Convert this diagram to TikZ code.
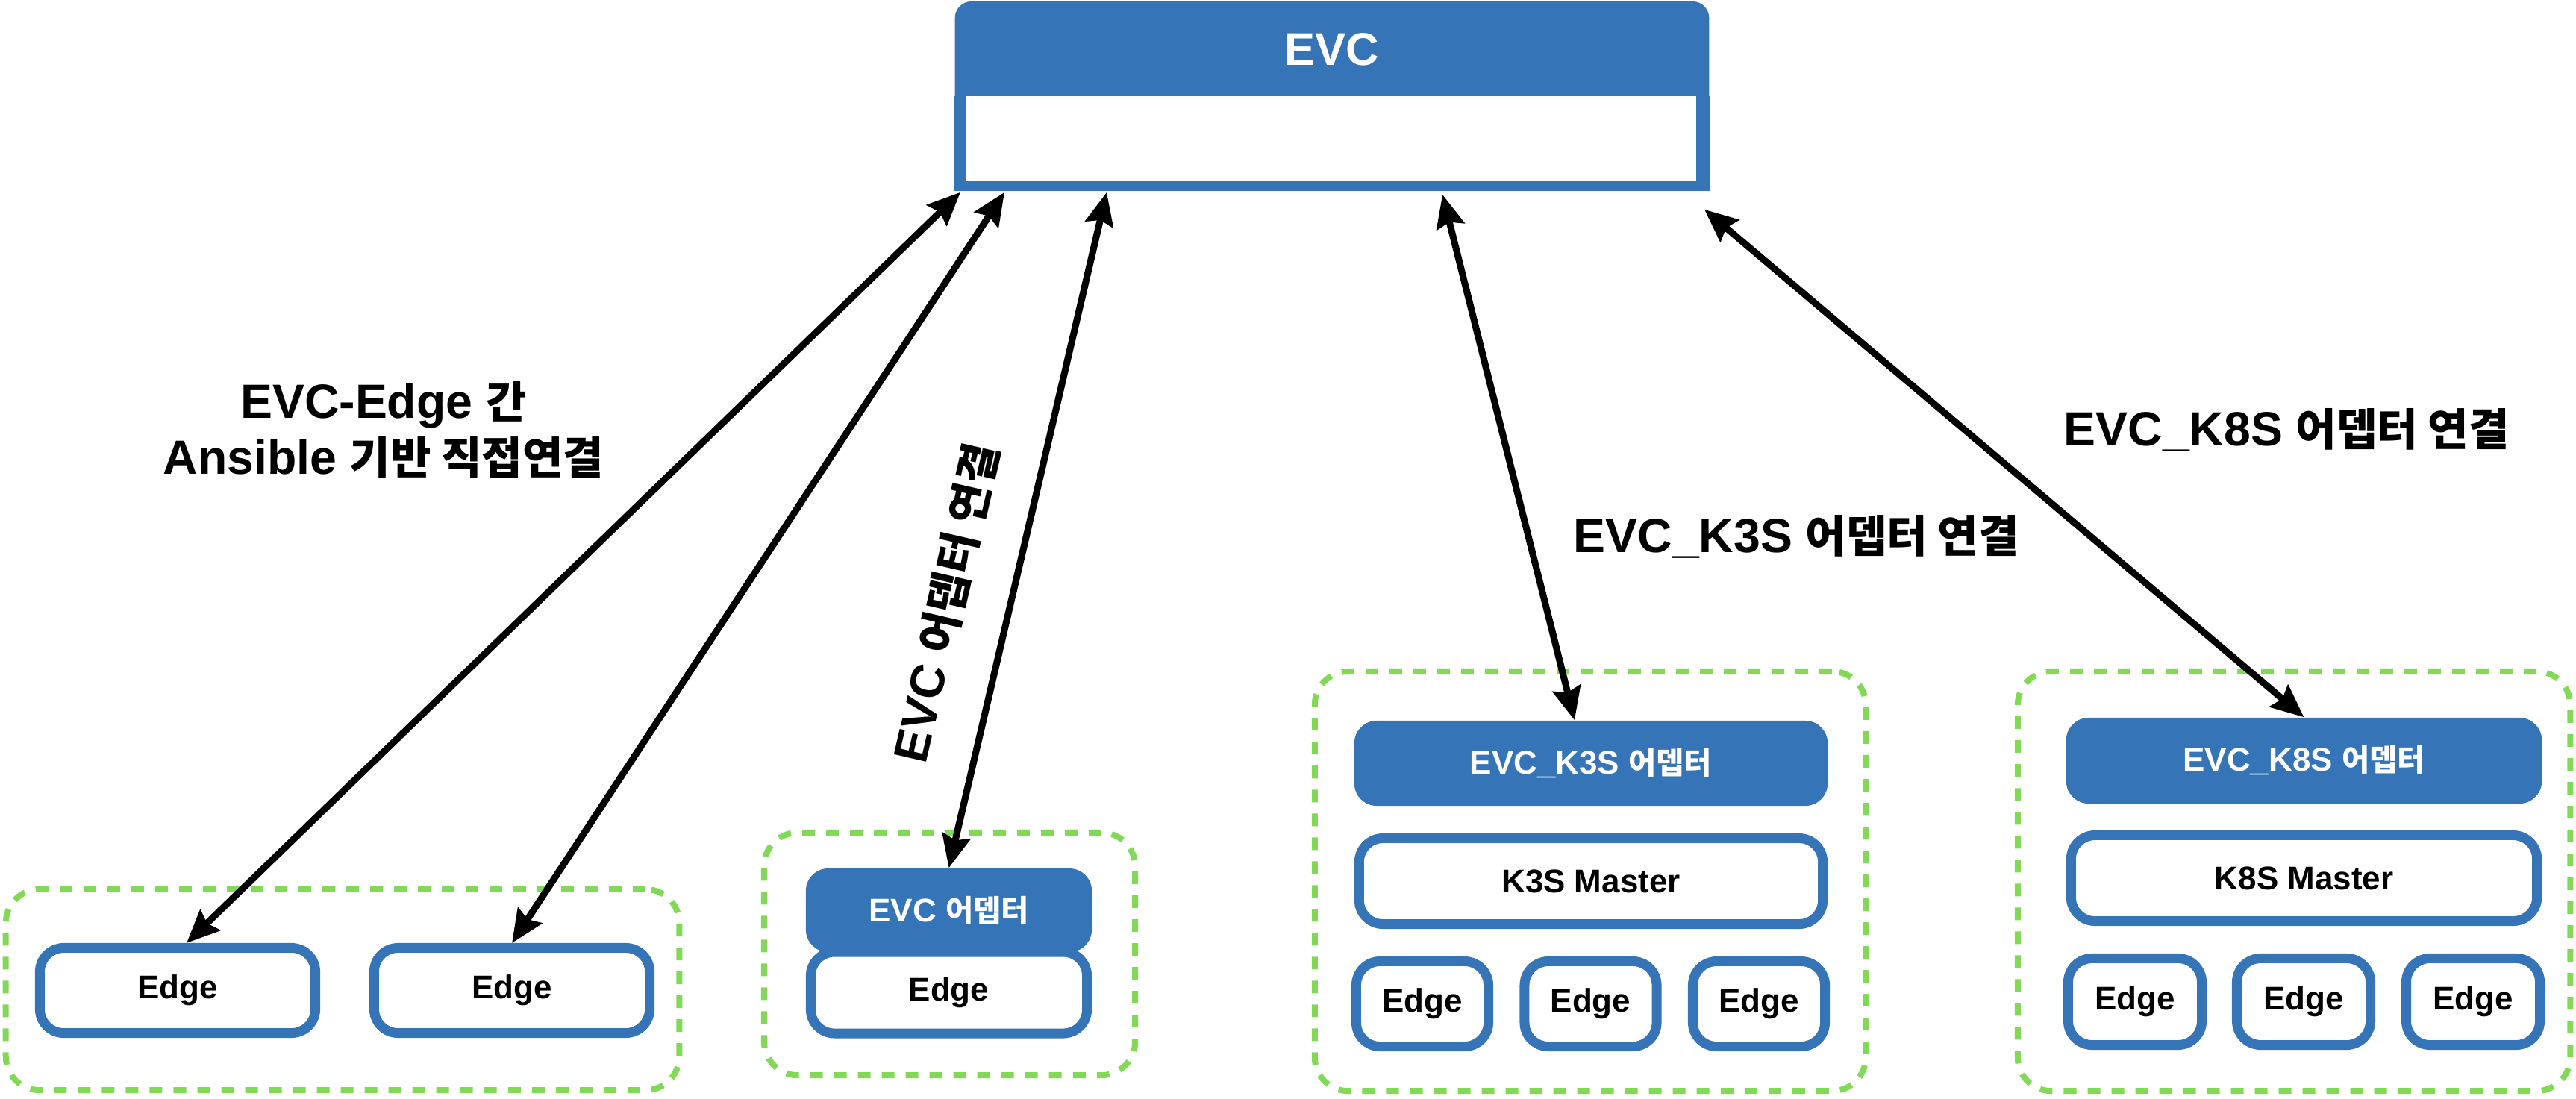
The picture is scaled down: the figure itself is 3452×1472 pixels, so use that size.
\documentclass[tikz,border=0pt]{standalone}
\usepackage{fontspec}
\setmainfont{Liberation Sans}
\newfontfamily\krfont[Scale=0.92]{Noto Sans CJK KR}
\newcommand{\kr}[1]{{\krfont #1}}
\usetikzlibrary{arrows.meta,calc}
\definecolor{evcblue}{RGB}{53,116,182}
\definecolor{grpgreen}{RGB}{130,217,86}

\begin{document}
\begin{tikzpicture}[x=0.01cm, y=-0.01cm,
  group/.style={draw=grpgreen, line width=0.08cm, dash pattern=on 0.17cm off 0.15cm, rounded corners=0.45cm},
  edgebox/.style={draw=evcblue, line width=0.13cm, fill=white, rounded corners=0.32cm, inner sep=0pt, font=\bfseries\fontsize{12.5}{15}\selectfont},
  adapter/.style={fill=evcblue, rounded corners=0.3cm, inner sep=0pt, text=white, font=\bfseries\fontsize{12.5}{15}\selectfont},
  note/.style={font=\bfseries\fontsize{18.3}{21.5}\selectfont, align=center, inner sep=0pt},
  link/.style={{Stealth[length=0.44cm,width=0.38cm,inset=0.06cm]}-{Stealth[length=0.44cm,width=0.38cm,inset=0.06cm]}, line width=0.09cm}]

  \useasboundingbox (0,0) rectangle (3452,1472);

  % EVC
  \node[fill=evcblue, rounded corners=0.22cm, minimum width=10.1cm, minimum height=2.53cm] (evc) at (1785,128.5) {};
  \fill[evcblue] (evc.west) rectangle (evc.south east);
  \node[fill=white, minimum width=9.78cm, minimum height=1.13cm, inner sep=0pt] (evcbody) at (1784,185.5) {};
  \node[text=white, font=\bfseries\fontsize{17.5}{20}\selectfont] (evctitle) at (1785,66) {EVC};

  % 그룹 (점선)
  \node[group, minimum width=9.02cm, minimum height=2.69cm] (grpA) at (459,1326.5) {};
  \node[group, minimum width=4.97cm, minimum height=3.25cm] (grpB) at (1272.5,1278.5) {};
  \node[group, minimum width=7.38cm, minimum height=5.62cm] (grpC) at (2131,1181) {};
  \node[group, minimum width=7.40cm, minimum height=5.62cm] (grpD) at (3074,1181) {};

  % Ansible 직접연결
  \node[edgebox, minimum width=3.69cm, minimum height=1.14cm] (edgeA) at (238,1327.5) {Edge};
  \node[edgebox, minimum width=3.69cm, minimum height=1.14cm] (edgeB) at (686,1327.5) {Edge};

  % EVC 어뎁터
  \node[edgebox, minimum width=3.70cm, minimum height=1.09cm] (edgeC) at (1271.5,1330.5) {Edge};
  \node[adapter, minimum width=3.83cm, minimum height=1.12cm] (adaptC) at (1271.5,1220) {EVC \kr{어뎁터}};

  % K3S
  \node[adapter, minimum width=6.34cm, minimum height=1.14cm] (adaptK3) at (2132,1023) {EVC\_K3S \kr{어뎁터}};
  \node[edgebox, minimum width=6.21cm, minimum height=1.15cm] (masterK3) at (2132,1181) {K3S Master};
  \node[edgebox, minimum width=1.77cm, minimum height=1.14cm] (edgeK3a) at (1906,1345.5) {Edge};
  \node[edgebox, minimum width=1.77cm, minimum height=1.14cm] (edgeK3b) at (2131.5,1345.5) {Edge};
  \node[edgebox, minimum width=1.77cm, minimum height=1.14cm] (edgeK3c) at (2357,1345.5) {Edge};

  % K8S
  \node[adapter, minimum width=6.37cm, minimum height=1.15cm] (adaptK8) at (3087.5,1019.5) {EVC\_K8S \kr{어뎁터}};
  \node[edgebox, minimum width=6.24cm, minimum height=1.15cm] (masterK8) at (3087.5,1177) {K8S Master};
  \node[edgebox, minimum width=1.79cm, minimum height=1.16cm] (edgeK8a) at (2861,1342.5) {Edge};
  \node[edgebox, minimum width=1.79cm, minimum height=1.16cm] (edgeK8b) at (3087,1342.5) {Edge};
  \node[edgebox, minimum width=1.79cm, minimum height=1.16cm] (edgeK8c) at (3314,1342.5) {Edge};

  % 연결
  \draw[link] ($(evc.south west)+(8,2)$) -- ($(edgeA.north)+(12,0)$);
  \draw[link] ($(evc.south west)+(67,2)$) -- (edgeB.north);
  \draw[link] ($(evc.south west)+(204,2)$) -- (adaptC.north);
  \draw[link] ($(evc.south west)+(654,5)$) -- ($(adaptK3.north)+(-22,0)$);
  \draw[link] ($(evc.south east)+(-7,25)$) -- (adaptK8.north);

  % 라벨
  \node[note] (noteA) at (514,576) {EVC-Edge \kr{간}\\Ansible \kr{기반 직접연결}};
  \node[note, rotate=77] (noteB) at (1268,808) {EVC \kr{어뎁터 연결}};
  \node[note, anchor=base west] (noteC) at (2108,740) {EVC\_K3S \kr{어뎁터 연결}};
  \node[note, anchor=base west] (noteD) at (2765,597) {EVC\_K8S \kr{어뎁터 연결}};

\end{tikzpicture}
\end{document}
